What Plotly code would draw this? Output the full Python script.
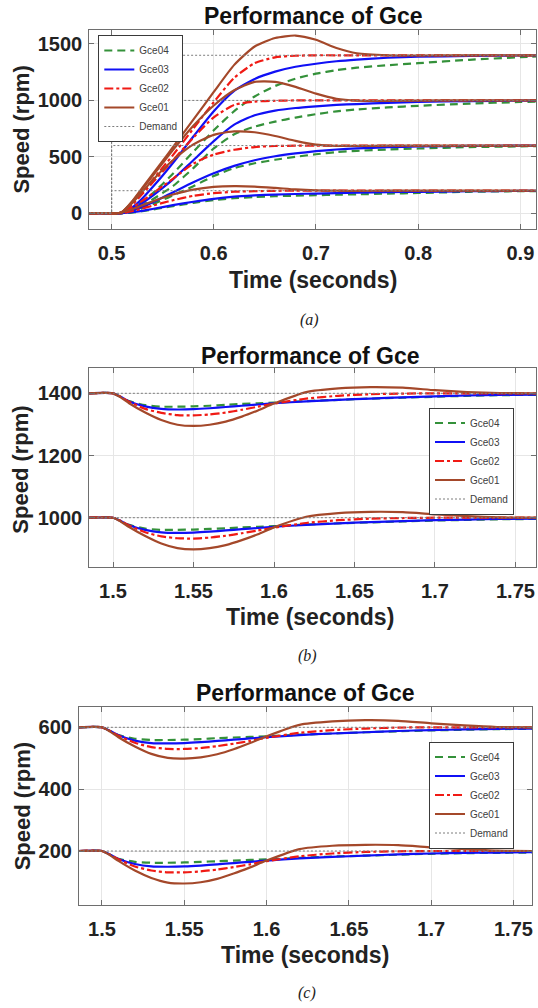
import plotly.graph_objects as go

W, H = 538, 1008

# ---------------- (a) start-up transients for four speed demands ----------------
t_a = [0.478, 0.50, 0.506, 0.51, 0.52, 0.53, 0.54, 0.55, 0.56, 0.58, 0.60, 0.62,
       0.64, 0.66, 0.68, 0.70, 0.72, 0.74, 0.77, 0.80, 0.85, 0.90, 0.916]

a_gce04 = {
    1400: [0, 0, 0, 3, 38, 100, 175, 260, 350, 545, 735, 905, 1035, 1128, 1193, 1237, 1268, 1290, 1312, 1330, 1360, 1383, 1389],
    1000: [0, 0, 0, 2, 26, 70, 122, 180, 240, 400, 575, 700, 768, 812, 848, 878, 903, 920, 938, 952, 972, 986, 989],
    600:  [0, 0, 0, 1, 16, 44, 80, 118, 158, 240, 330, 400, 443, 474, 500, 523, 542, 553, 565, 574, 586, 593, 595],
    200:  [0, 0, 0, 0, 6, 18, 32, 48, 63, 92, 117, 133, 144, 151, 156, 160, 164, 168, 174, 180, 190, 196, 197],
}
a_gce03 = {
    1400: [0, 0, 0, 4, 50, 130, 230, 335, 445, 680, 905, 1085, 1190, 1255, 1298, 1325, 1347, 1362, 1378, 1387, 1394, 1398, 1399],
    1000: [0, 0, 0, 3, 38, 90, 155, 225, 300, 470, 640, 785, 868, 910, 933, 948, 960, 968, 978, 986, 994, 998, 999],
    600:  [0, 0, 0, 2, 22, 55, 95, 140, 185, 275, 355, 420, 470, 505, 530, 550, 565, 575, 585, 592, 597, 599, 599],
    200:  [0, 0, 0, 1, 9, 22, 38, 55, 72, 102, 128, 147, 158, 166, 171, 175, 179, 183, 187, 190, 195, 198, 198],
}
a_gce02 = {
    1400: [0, 0, 0, 7, 80, 185, 295, 405, 515, 750, 985, 1200, 1330, 1382, 1396, 1400, 1400, 1400, 1400, 1400, 1400, 1400, 1400],
    1000: [0, 0, 0, 7, 75, 170, 270, 370, 470, 670, 850, 960, 990, 997, 1000, 1000, 1000, 1000, 1000, 1000, 1000, 1000, 1000],
    600:  [0, 0, 0, 5, 50, 110, 175, 240, 305, 440, 520, 563, 587, 596, 599, 600, 600, 600, 600, 600, 600, 600, 600],
    200:  [0, 0, 0, 2, 18, 42, 67, 92, 115, 155, 178, 191, 196, 199, 200, 200, 200, 200, 200, 200, 200, 200, 200],
}
a_gce01 = {
    1400: [0, 0, 0, 10, 105, 225, 345, 465, 585, 830, 1075, 1315, 1478, 1553, 1575, 1537, 1465, 1418, 1400, 1398, 1400, 1400, 1400],
    1000: [0, 0, 0, 10, 100, 215, 330, 445, 560, 775, 955, 1090, 1165, 1165, 1120, 1060, 1015, 998, 996, 999, 1000, 1000, 1000],
    600:  [0, 0, 0, 9, 90, 190, 290, 385, 470, 610, 695, 725, 718, 685, 642, 608, 598, 597, 599, 600, 600, 600, 600],
    200:  [0, 0, 0, 5, 35, 70, 105, 138, 166, 210, 234, 241, 237, 225, 211, 203, 200, 199, 200, 200, 200, 200, 200],
}
a_demand_t = [0.478, 0.50, 0.50, 0.916]
a_demands = [200, 600, 1000, 1400]

# ---------------- (b) load disturbance at 1400 and 1000 rpm ----------------
t_b = [1.485, 1.50, 1.505, 1.51, 1.52, 1.53, 1.54, 1.55, 1.56, 1.57, 1.58, 1.59,
       1.60, 1.62, 1.64, 1.66, 1.68, 1.70, 1.72, 1.74, 1.763]
b_gce04 = {
    1400: [1400, 1400, 1388, 1375, 1362, 1357, 1357, 1358, 1360, 1363, 1366, 1368, 1370, 1375, 1379, 1383, 1386, 1389, 1392, 1394, 1395],
    1000: [1000, 1000, 989, 977, 965, 961, 961, 962, 964, 966, 969, 971, 973, 978, 982, 985, 988, 991, 993, 995, 996],
}
b_gce03 = {
    1400: [1400, 1400, 1388, 1374, 1358, 1350, 1348, 1349, 1352, 1356, 1360, 1364, 1368, 1374, 1379, 1383, 1387, 1390, 1393, 1395, 1396],
    1000: [1000, 1000, 989, 976, 961, 953, 951, 952, 955, 959, 963, 967, 971, 977, 982, 986, 989, 992, 994, 996, 997],
}
b_gce02 = {
    1400: [1400, 1400, 1388, 1373, 1350, 1337, 1330, 1329, 1332, 1338, 1347, 1357, 1367, 1383, 1392, 1397, 1399, 1400, 1400, 1400, 1400],
    1000: [1000, 1000, 989, 975, 953, 940, 934, 933, 936, 942, 950, 959, 968, 983, 992, 997, 999, 1000, 1000, 1000, 1000],
}
b_gce01 = {
    1400: [1400, 1400, 1386, 1368, 1338, 1314, 1299, 1295, 1299, 1309, 1325, 1345, 1367, 1404, 1416, 1420, 1418, 1410, 1404, 1401, 1400],
    1000: [1000, 1000, 987, 970, 941, 917, 902, 898, 902, 912, 928, 947, 969, 1003, 1015, 1019, 1018, 1011, 1005, 1001, 1000],
}
b_demand_t = [1.485, 1.763]
b_demands = [1000, 1400]

# ---------------- (c) load disturbance at 600 and 200 rpm ----------------
t_c = [1.486, 1.50, 1.505, 1.51, 1.52, 1.53, 1.54, 1.55, 1.56, 1.57, 1.58, 1.59,
       1.60, 1.62, 1.64, 1.66, 1.68, 1.70, 1.72, 1.74, 1.762]
c_gce04 = {
    600: [600, 600, 588, 575, 563, 559, 559, 560, 562, 565, 567, 569, 571, 576, 580, 584, 587, 590, 592, 594, 595],
    200: [200, 200, 188, 175, 165, 162, 162, 163, 165, 167, 169, 171, 173, 178, 182, 185, 188, 191, 193, 194, 195],
}
c_gce03 = {
    600: [600, 600, 588, 574, 557, 549, 548, 549, 552, 556, 560, 564, 568, 575, 580, 584, 588, 591, 593, 595, 596],
    200: [200, 200, 188, 174, 158, 150, 149, 150, 153, 157, 161, 165, 169, 176, 181, 185, 189, 192, 194, 195, 196],
}
c_gce02 = {
    600: [600, 600, 588, 573, 550, 536, 530, 530, 533, 539, 547, 556, 566, 582, 591, 596, 599, 600, 600, 600, 600],
    200: [200, 200, 188, 173, 150, 137, 131, 131, 134, 140, 148, 157, 167, 183, 192, 197, 199, 200, 200, 200, 200],
}
c_gce01 = {
    600: [600, 600, 586, 568, 538, 514, 501, 499, 503, 513, 529, 549, 571, 608, 619, 623, 621, 613, 606, 601, 600],
    200: [200, 200, 186, 168, 137, 113, 98, 95, 99, 110, 127, 147, 169, 206, 217, 220, 219, 212, 206, 201, 200],
}
c_demand_t = [1.486, 1.762]
c_demands = [200, 600]

# ---------------- styling ----------------
SERIES = [
    ("Gce04", dict(color="#34913a", width=2.2, dash="8px,5px")),
    ("Gce03", dict(color="#1010f5", width=2.2)),
    ("Gce02", dict(color="#f01a14", width=2.2, dash="9px,3px,3px,3px")),
    ("Gce01", dict(color="#a4482a", width=2.2)),
]
DEMAND_LINE = dict(color="#7c7c7c", width=1, dash="2px,2px")
SANS = "Liberation Sans, Arial, sans-serif"
INK = "#222222"
FRAME = "#6e6e6e"


def px_x(px):
    return px / W


def px_y(py):
    return 1 - py / H


fig = go.Figure()


def add_panel(idx, t, groups, demand_t, demand_levels, legend_id, step_demand=False):
    xa = "x" if idx == 1 else f"x{idx}"
    ya = "y" if idx == 1 else f"y{idx}"
    for (name, style), group in zip(SERIES, groups):
        for k, (level, values) in enumerate(group.items()):
            fig.add_trace(go.Scatter(
                x=t, y=values, mode="lines", name=name,
                line=dict(shape="spline", smoothing=0.6, **style),
                xaxis=xa, yaxis=ya, legend=legend_id,
                showlegend=(k == 0), legendgroup=f"{legend_id}-{name}",
                hoverinfo="skip",
            ))
    for k, level in enumerate(demand_levels):
        if step_demand:
            y = [0, 0, level, level]
        else:
            y = [level] * len(demand_t)
        fig.add_trace(go.Scatter(
            x=demand_t, y=y, mode="lines", name="Demand",
            line=DEMAND_LINE, xaxis=xa, yaxis=ya, legend=legend_id,
            showlegend=(k == 0), legendgroup=f"{legend_id}-Demand",
            hoverinfo="skip",
        ))


add_panel(1, t_a, [a_gce04, a_gce03, a_gce02, a_gce01], a_demand_t, a_demands, "legend", step_demand=True)
add_panel(2, t_b, [b_gce04, b_gce03, b_gce02, b_gce01], b_demand_t, b_demands, "legend2")
add_panel(3, t_c, [c_gce04, c_gce03, c_gce02, c_gce01], c_demand_t, c_demands, "legend3")


def axis(domain, rng, tickvals, ticktext, anchor):
    return dict(
        domain=domain, range=rng, anchor=anchor,
        tickmode="array", tickvals=tickvals, ticktext=ticktext,
        showline=True, linecolor=FRAME, linewidth=1, mirror="ticks",
        ticks="inside", ticklen=5, tickcolor=FRAME, tickwidth=1,
        showgrid=True, gridcolor="#e6e6e6", gridwidth=1, zeroline=False,
        tickfont=dict(family=SANS, size=20, color=INK, weight="bold"),
    )


# plot-area boxes in pixels: (left, right, top, bottom)
box_a = (89.2, 536.4, 30.0, 229.3)
box_b = (89.2, 536.4, 368.3, 566.7)
box_c = (78.9, 531.9, 706.7, 905.0)


def xdom(b):
    return [px_x(b[0]), px_x(b[1])]


def ydom(b):
    return [px_y(b[3]), px_y(b[2])]


xa_ticks = [0.5, 0.6, 0.7, 0.8, 0.9]
xb_ticks = [1.5, 1.55, 1.6, 1.65, 1.7, 1.75]
ya_ticks = [0, 500, 1000, 1500]
yb_ticks = [1000, 1200, 1400]
yc_ticks = [200, 400, 600]

x1 = axis(xdom(box_a), [0.4781, 0.9157], xa_ticks, [f"{v:g}" for v in xa_ticks], "y")
y1 = axis(ydom(box_a), [-142, 1624], ya_ticks, [str(v) for v in ya_ticks], "x")
x2 = axis(xdom(box_b), [1.4852, 1.763], xb_ticks, [f"{v:g}" for v in xb_ticks], "y2")
y2 = axis(ydom(box_b), [842.5, 1480.4], yb_ticks, [str(v) for v in yb_ticks], "x2")
x3 = axis(xdom(box_c), [1.486, 1.7612], xb_ticks, [f"{v:g}" for v in xb_ticks], "y3")
y3 = axis(ydom(box_c), [25.4, 666.6], yc_ticks, [str(v) for v in yc_ticks], "x3")
for xa in (x1, x2, x3):
    xa["ticklabelstandoff"] = 6
for ya in (y1, y2, y3):
    ya["ticklabelstandoff"] = 2


def legend_box(x, y, xanchor, yanchor):
    return dict(
        x=x, y=y, xref="paper", yref="paper", xanchor=xanchor, yanchor=yanchor,
        bgcolor="white", bordercolor="#3a3a3a", borderwidth=1,
        font=dict(family=SANS, size=10, color="#404040"),
        itemwidth=30, tracegroupgap=0, traceorder="normal",
    )


annotations = []


def text(px, py, s, size, angle=0, family=SANS, color=INK):
    annotations.append(dict(
        x=px_x(px), y=px_y(py), xref="paper", yref="paper", text=s,
        showarrow=False, xanchor="center", yanchor="middle", textangle=angle,
        font=dict(family=family, size=size, color=color),
    ))


for (tx, ty), (xx, xy), (yx, yy), (cx, cy), cap in [
    ((313, 16), (313, 280), (20.6, 130), (309, 320), "(a)"),
    ((310.6, 355.8), (309.6, 616.7), (19.7, 470), (307, 655.8), "(b)"),
    ((305.4, 693.3), (305.4, 955), (22.3, 806), (307, 992.5), "(c)"),
]:
    text(tx, ty, "<b>Performance of Gce</b>", 23, color="#111111")
    text(xx, xy, "<b>Time (seconds)</b>", 23)
    text(yx, yy, "<b>Speed (rpm)</b>", 22, angle=-90)
    text(cx, cy, f"<i>{cap}</i>", 16, family="Liberation Serif, DejaVu Serif, serif", color="#222222")

fig.update_layout(
    width=W, height=H, margin=dict(l=0, r=0, t=0, b=0),
    paper_bgcolor="white", plot_bgcolor="white",
    xaxis=x1, yaxis=y1, xaxis2=x2, yaxis2=y2, xaxis3=x3, yaxis3=y3,
    legend=legend_box(px_x(98.3), px_y(35), "left", "top"),
    legend2=legend_box(px_x(514), px_y(461), "right", "middle"),
    legend3=legend_box(px_x(514), px_y(795), "right", "middle"),
    annotations=annotations,
    showlegend=True,
)

fig.write_html("out.html")
